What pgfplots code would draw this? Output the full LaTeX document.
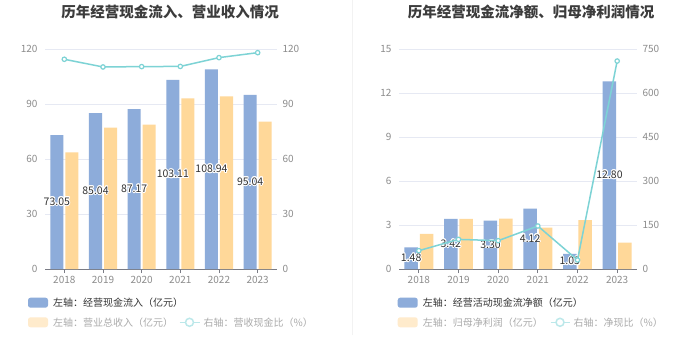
\documentclass[border=0pt]{standalone}
\usepackage{pgfplots}
\pgfplotsset{compat=1.18}
\usepackage{pgfplotstable}
\usepackage{fontspec}
\setmainfont{Noto Sans CJK SC}
\usepackage{contour}
\contourlength{0.9pt}
\definecolor{cblue}{HTML}{8DACDA}
\definecolor{corange}{HTML}{FFD899}
\definecolor{cteal}{HTML}{7DD3D5}
\definecolor{gridc}{HTML}{E6E9F3}
\definecolor{tickgray}{HTML}{8C8C8C}
\definecolor{axisgray}{HTML}{7A7C85}
\definecolor{labelc}{HTML}{333333}
\definecolor{titlec}{HTML}{3C3C3C}
\definecolor{legdark}{HTML}{333333}
\definecolor{leggray}{HTML}{ABABAB}
\definecolor{legorange}{HTML}{FFEBCC}
\definecolor{legteal}{HTML}{BCE8EA}
\definecolor{divc}{HTML}{F2F2F2}

\pgfplotstableread{
x cf rev ratio
0 73.05 63.6 114.4
1 85.04 77.1 110.2
2 87.17 78.7 110.4
3 103.11 93.1 110.5
4 108.94 94.2 115.3
5 95.04 80.4 118.0
}\lefttab
\pgfplotstableread{
x ncf np ratio
0 1.48 2.39 62.5
1 3.42 3.41 101.0
2 3.30 3.43 96.6
3 4.12 2.82 146.6
4 1.03 3.34 30.7
5 12.80 1.80 709
}\righttab

\pgfplotsset{
  /pgf/number format/assume math mode=true,
  base/.style={
    scale only axis, height=220pt, xmin=-0.5, xmax=5.5, ymin=0,
    xtick={0,...,5}, xticklabels={2018,2019,2020,2021,2022,2023},
    ticklabel style={font=\fontsize{10}{12}\selectfont, text=tickgray},
  },
  leftax/.style={base,
    axis x line*=bottom, axis y line*=left,
    y axis line style={draw=none},
    x axis line style={draw=axisgray, line width=0.8pt, -},
    xtick style={draw=axisgray, line width=0.8pt},
    tick align=outside, major tick length=4pt,
    ytick style={draw=none},
    ymajorgrids, grid style={gridc, line width=0.8pt},
  },
  rightax/.style={base,
    axis x line=none, axis y line*=right,
    y axis line style={draw=none, -}, ytick style={draw=none},
    tick align=outside, major tick length=2pt,
  },
  lbl/.style={sharp plot, draw=none, mark=none, point meta=explicit,
    nodes near coords={\contour{white}{\pgfmathprintnumber[fixed,fixed zerofill,precision=2]{\pgfplotspointmeta}}},
    nodes near coords style={anchor=center, font=\fontsize{10.5}{12}\selectfont, text=labelc}},
  ratioline/.style={cteal, line width=1.5pt, mark=*, mark size=2.2pt,
    mark options={fill=white, draw=cteal, line width=1.2pt}},
}

\begin{document}
\begin{tikzpicture}
\fill[white] (0,0) rectangle (700pt,360pt);
\path[use as bounding box] (0,0) rectangle (700pt,360pt);
\draw[divc, line width=1pt] (352pt,25pt) -- (352pt,360pt);

\node[font=\fontsize{14.5}{16}\selectfont\bfseries, text=titlec] at (170pt,348pt) {历年经营现金流入、营业收入情况};
\node[font=\fontsize{14.5}{16}\selectfont\bfseries, text=titlec] at (531pt,348pt) {历年经营现金流净额、归母净利润情况};

% ---------- left chart ----------
\begin{axis}[leftax, at={(45pt,91pt)}, anchor=south west, width=232pt,
  ymax=120, ytick={0,30,...,120}]
\addplot[ybar, bar width=13pt, bar shift=-7.5pt, fill=cblue, draw=none] table[x=x,y=cf] {\lefttab};
\addplot[ybar, bar width=13pt, bar shift=7.5pt, fill=corange, draw=none] table[x=x,y=rev] {\lefttab};
\addplot[lbl, nodes near coords style={xshift=-7.5pt}] table[x=x, y expr=\thisrow{cf}/2, meta=cf] {\lefttab};
\end{axis}
\begin{axis}[rightax, at={(45pt,91pt)}, anchor=south west, width=232pt,
  ymax=120, ytick={0,30,...,120}]
\addplot[ratioline] table[x=x,y=ratio] {\lefttab};
\end{axis}

% ---------- right chart ----------
\begin{axis}[leftax, at={(399pt,91pt)}, anchor=south west, width=238pt,
  ymax=15, ytick={0,3,...,15}]
\addplot[ybar, bar width=13.5pt, bar shift=-7.7pt, fill=cblue, draw=none] table[x=x,y=ncf] {\righttab};
\addplot[ybar, bar width=13.5pt, bar shift=7.7pt, fill=corange, draw=none] table[x=x,y=np] {\righttab};
\addplot[lbl, nodes near coords style={xshift=-7.7pt}] table[x=x, y expr=\thisrow{ncf}/2, meta=ncf] {\righttab};
\end{axis}
\begin{axis}[rightax, at={(399pt,91pt)}, anchor=south west, width=238pt,
  ymax=750, ytick={0,150,...,750}]
\addplot[ratioline] table[x=x,y=ratio] {\righttab};
\end{axis}

% ---------- legends ----------
\tikzset{legtxt/.style={anchor=west, inner sep=0pt, font=\fontsize{10}{12}\selectfont}}
\fill[cblue, rounded corners=2.5pt] (28pt,52.3pt) rectangle (48pt,62.3pt);
\node[legtxt, text=legdark] at (53pt,57.3pt) {左轴：经营现金流入（亿元）};
\fill[legorange, rounded corners=2.5pt] (28pt,32.7pt) rectangle (48pt,42.7pt);
\node[legtxt, text=leggray] at (53pt,37.7pt) {左轴：营业总收入（亿元）};
\draw[legteal, line width=1.5pt] (179.5pt,37.7pt) -- (199.5pt,37.7pt);
\draw[legteal, line width=1.5pt, fill=white] (189.5pt,37.7pt) circle (4pt);
\node[legtxt, text=leggray] at (203.5pt,37.7pt) {右轴：营收现金比（\%）};

\fill[cblue, rounded corners=2.5pt] (397.7pt,52.3pt) rectangle (417.7pt,62.3pt);
\node[legtxt, text=legdark] at (422.7pt,57.3pt) {左轴：经营活动现金流净额（亿元）};
\fill[legorange, rounded corners=2.5pt] (397.7pt,32.7pt) rectangle (417.7pt,42.7pt);
\node[legtxt, text=leggray] at (422.7pt,37.7pt) {左轴：归母净利润（亿元）};
\draw[legteal, line width=1.5pt] (550.5pt,37.7pt) -- (569.5pt,37.7pt);
\draw[legteal, line width=1.5pt, fill=white] (560pt,37.7pt) circle (4pt);
\node[legtxt, text=leggray] at (573.5pt,37.7pt) {右轴：净现比（\%）};
\end{tikzpicture}
\end{document}
